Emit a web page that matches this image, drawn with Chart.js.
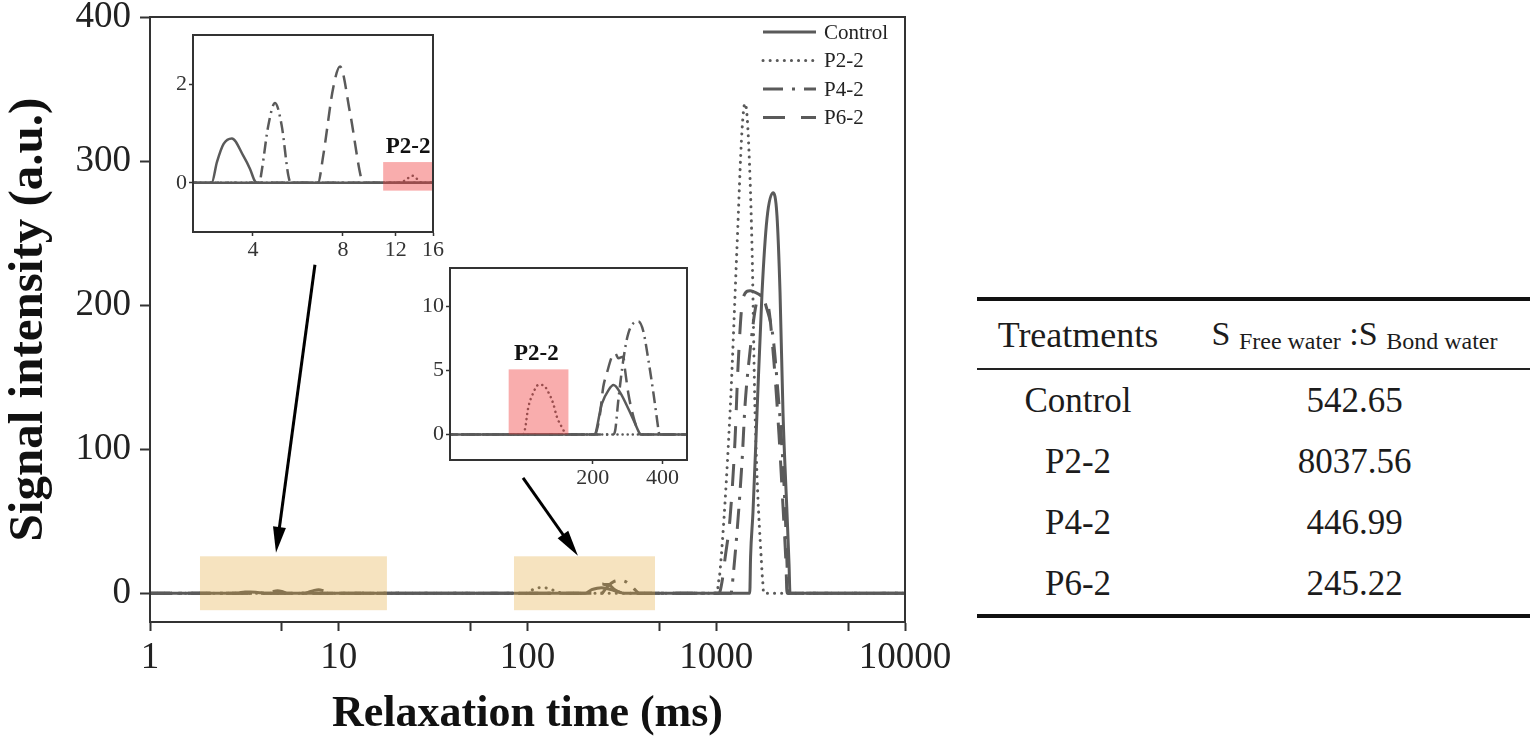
<!DOCTYPE html>
<html>
<head>
<meta charset="utf-8">
<script src="https://cdn.jsdelivr.net/npm/chart.js@4.4.1/dist/chart.umd.min.js"></script>
<style>
  html, body { margin: 0; padding: 0; background: #fff; }
  body { width: 1536px; height: 748px; position: relative; overflow: hidden; }
  #main { position: absolute; left: 0; top: 0; }
  #inset1 { position: absolute; left: 160px; top: 28px; }
  #inset2 { position: absolute; left: 415px; top: 260px; }
  #ratioTable {
    position: absolute; left: 977px; top: 297px; width: 553px;
    border-collapse: collapse; font-family: "Liberation Serif", "Times New Roman", serif; color: #1c1c1c;
  }
  #ratioTable thead tr { border-top: 4px solid #111; border-bottom: 2px solid #222; }
  #ratioTable th { font-weight: normal; height: 67px; padding: 0; font-size: 36px; }
  #ratioTable th.c2 { font-size: 34px; }
  #ratioTable td { height: 61px; padding: 0; text-align: center; font-size: 35px; }
  #ratioTable tbody tr:last-child { border-bottom: 4px solid #111; }
  #ratioTable .c1 { width: 202px; }
  #ratioTable sub { font-size: 24px; vertical-align: -4px; }
</style>
</head>
<body>
<canvas id="main" width="960" height="748"></canvas>
<canvas id="inset1" width="290" height="240"></canvas>
<canvas id="inset2" width="290" height="235"></canvas>
<table id="ratioTable">
  <thead><tr><th class="c1">Treatments</th><th class="c2">S <sub>Free water</sub> :S <sub>Bond water</sub></th></tr></thead>
  <tbody></tbody>
</table>
<script>
// T2 relaxation curves

const seriesNames = ['Control', 'P2-2', 'P4-2', 'P6-2']

const controlTime = [1, 2.91, 3.03, 3.19, 3.40, 3.71, 3.91, 4.06, 4.15,
    203, 219, 234, 246, 262, 285, 305, 320, 325,
    1505, 1520, 1565, 1644, 1747, 1857, 1998, 2098, 2177, 2258, 2370, 2430, 2459, 10000]
const controlSignal = [0, 0, 0.42, 0.79, 0.90, 0.55, 0.28, 0.03, 0,
    0, 2.4, 3.46, 3.85, 3.3, 2.0, 0.84, 0.05, 0,
    0, 25, 56, 125, 208, 260, 278, 262, 209, 125, 56, 20, 0, 0]

const p22Time = [1, 12.5, 12.9, 13.7, 14.3, 14.6,
    100, 102, 105, 111, 116, 122, 128.5, 135, 140, 147, 152, 154,
    1015, 1022, 1047, 1183, 1288, 1369, 1420, 1473, 1547, 1605, 1747, 1770, 1780, 10000]
const p22Signal = [0, 0, 0.05, 0.14, 0.05, 0,
    0, 0.45, 2.0, 3.3, 3.85, 3.85, 3.3, 2.4, 1.36, 0.57, 0.1, 0,
    0, 5, 15, 125, 240, 321, 340, 321, 240, 125, 15, 5, 0, 0]

const p42Time = [1, 4.2, 4.28, 4.5, 4.74, 4.99, 5.25, 5.35,
    245, 250, 258, 271, 285, 315, 331, 348, 366, 378, 385, 388,
    1197, 1227, 1369, 1420, 1510, 1624, 1727, 1857, 1998, 2124, 2231, 2313, 2370, 2400, 10000]
const p42Signal = [0, 0, 0.25, 1.16, 1.62, 1.16, 0.15, 0,
    0, 0.3, 2.67, 5.8, 7.9, 8.82, 8.04, 5.8, 3.2, 1.36, 0.3, 0,
    0, 11, 91, 130, 168, 200, 207, 197, 178, 139, 101, 60, 21, 0, 0]

const p62Time = [1, 6.6, 6.87, 7.42, 7.82, 8.44, 9.24, 9.35,
    205, 208, 215, 222, 230, 242, 250, 258, 271, 276, 285, 300, 315, 320,
    1034, 1073, 1113, 1183, 1257, 1304, 1386, 1510, 1705, 1880, 2023, 2150, 2258, 2342, 2370, 10000]
const p62Signal = [0, 0, 0.55, 1.93, 2.36, 1.43, 0.05, 0,
    0, 0.3, 1.6, 3.7, 4.76, 6.07, 6.34, 5.95, 6.07, 5.0, 3.2, 1.36, 0.2, 0,
    0, 8, 24, 52, 106, 157, 205, 210, 207, 200, 160, 110, 60, 20, 0, 0]

const allTimes = [controlTime, p22Time, p42Time, p62Time]
const allSignals = [controlSignal, p22Signal, p42Signal, p62Signal]

// tick labels
const mainTicksX = [1, 5, 10, 50, 100, 500, 1000, 5000, 10000]
const mainLabelsX = [1, 10, 100, 1000, 10000]
const mainTicksY = [0, 100, 200, 300, 400]
const inset1TicksX = [4, 8, 12, 16]
const inset1TicksY = [0, 2]
const inset2TicksX = [200, 400]
const inset2TicksY = [0, 5, 10]

// table
const tableTreatments = ['Control', 'P2-2', 'P4-2', 'P6-2']
const tableRatios = ['542.65', '8037.56', '446.99', '245.22']

// zoom windows, arrows and P2-2 marks (data coords)
const zoomWindows = [{x: [1.84, 18.0], y: [-11.8, 25.6]}, {x: [84.8, 473.7], y: [-11.8, 25.6]}]
const arrowLinks = [{from: [7.48, 228], to: [4.65, 28]}, {from: [94.7, 80], to: [185, 26]}]
const inset1Mark = {x: [10.9, 16], y: [-0.16, 0.42], label: [13.2, 0.72]}
const inset2Mark = {x: [86.6, 157], y: [0, 5.08], label: [114, 6.3]}

const serif = '"Liberation Serif", "Times New Roman", serif'
const lineColor = '#5a5a5a'
const axisColor = '#333'
const dashMain = {'Control': [], 'P2-2': [0.1, 7], 'P4-2': [20, 9, 3, 9], 'P6-2': [22, 16]}
const dashInset = {'Control': [], 'P2-2': [0.1, 5], 'P4-2': [12, 5, 2, 5], 'P6-2': [14, 8]}

Chart.defaults.font.family = serif
Chart.defaults.color = '#222'

function makeSets(dash, width){
    return seriesNames.map((name, i) => ({
        label: name,
        data: allTimes[i].map((t, j) => ({x: t, y: allSignals[i][j]})),
        borderColor: lineColor,
        borderWidth: width,
        borderDash: dash[name],
        borderCapStyle: name === 'P2-2' ? 'round' : 'butt',
        pointRadius: 0,
        cubicInterpolationMode: 'monotone',
        fill: false,
    }))
}

function frameArea(chart, w){
    const {ctx, chartArea: a} = chart
    ctx.save()
    ctx.strokeStyle = axisColor
    ctx.lineWidth = w
    ctx.strokeRect(a.left, a.top, a.right - a.left, a.bottom - a.top)
    ctx.restore()
}

function drawArrow(ctx, x1, y1, x2, y2){
    const a = Math.atan2(y2 - y1, x2 - x1)
    const head = 26, half = 6.5
    ctx.beginPath()
    ctx.moveTo(x1, y1)
    ctx.lineTo(x2 - Math.cos(a) * head * 0.8, y2 - Math.sin(a) * head * 0.8)
    ctx.stroke()
    const bx = x2 - Math.cos(a) * head, by = y2 - Math.sin(a) * head
    ctx.beginPath()
    ctx.moveTo(x2, y2)
    ctx.lineTo(bx + Math.sin(a) * half, by - Math.cos(a) * half)
    ctx.lineTo(bx - Math.sin(a) * half, by + Math.cos(a) * half)
    ctx.closePath()
    ctx.fill()
}

const mainExtras = {
    id: 'mainExtras',
    afterDatasetsDraw(chart){
        const {ctx, scales: {x, y}} = chart
        ctx.save()
        ctx.fillStyle = 'rgba(228, 170, 60, 0.33)'
        zoomWindows.forEach(w => {
            const l = x.getPixelForValue(w.x[0]), r = x.getPixelForValue(w.x[1])
            const t = y.getPixelForValue(w.y[1]), b = y.getPixelForValue(w.y[0])
            ctx.fillRect(l, t, r - l, b - t)
        })
        ctx.strokeStyle = '#000'
        ctx.fillStyle = '#000'
        ctx.lineWidth = 3
        arrowLinks.forEach(k => {
            drawArrow(ctx, x.getPixelForValue(k.from[0]), y.getPixelForValue(k.from[1]),
                x.getPixelForValue(k.to[0]), y.getPixelForValue(k.to[1]))
        })
        ctx.restore()
    },
    afterDraw(chart){
        frameArea(chart, 2)
        // legend, top right inside the plot
        const {ctx, chartArea} = chart
        const x0 = chartArea.right - 142, y0 = chartArea.top + 15
        ctx.save()
        chart.data.datasets.forEach((ds, i) => {
            const yy = y0 + i * 28.5
            ctx.strokeStyle = ds.borderColor
            ctx.lineWidth = 3
            ctx.lineCap = ds.borderCapStyle
            ctx.setLineDash(ds.borderDash)
            ctx.beginPath()
            ctx.moveTo(x0, yy)
            ctx.lineTo(x0 + 53, yy)
            ctx.stroke()
            ctx.setLineDash([])
            ctx.fillStyle = '#222'
            ctx.font = '21px ' + serif
            ctx.textBaseline = 'middle'
            ctx.fillText(ds.label, x0 + 61, yy + 1)
        })
        ctx.restore()
    }
}

function insetExtras(mark){
    return {
        id: 'insetExtras',
        beforeDatasetsDraw(chart){
            const {ctx, chartArea: a} = chart
            ctx.save()
            ctx.fillStyle = '#fff'
            ctx.fillRect(a.left, a.top, a.right - a.left, a.bottom - a.top)
            ctx.restore()
        },
        afterDatasetsDraw(chart){
            const {ctx, scales: {x, y}} = chart
            const l = x.getPixelForValue(mark.x[0]), r = x.getPixelForValue(mark.x[1])
            const t = y.getPixelForValue(mark.y[1]), b = y.getPixelForValue(mark.y[0])
            ctx.save()
            ctx.fillStyle = 'rgba(240, 60, 60, 0.42)'
            ctx.fillRect(l, t, r - l, b - t)
            ctx.fillStyle = '#111'
            ctx.font = 'bold 23px ' + serif
            ctx.textAlign = 'center'
            ctx.textBaseline = 'middle'
            ctx.fillText('P2-2', x.getPixelForValue(mark.label[0]), y.getPixelForValue(mark.label[1]))
            ctx.restore()
        },
        afterDraw(chart){
            frameArea(chart, 2)
        }
    }
}

// main chart
const mainCtx = document.getElementById('main').getContext('2d')
new Chart(mainCtx, {
    type: 'line',
    data: {datasets: makeSets(dashMain, 3)},
    options: {
        responsive: false,
        animation: false,
        events: [],
        layout: {padding: {left: 0, top: 17, right: 55, bottom: 0}},
        plugins: {legend: {display: false}, tooltip: {enabled: false}},
        scales: {
            x: {
                type: 'logarithmic',
                min: 1,
                max: 10000,
                afterBuildTicks: (s) => { s.ticks = mainTicksX.map(v => ({value: v})) },
                afterFit: (s) => { s.height = 126; s.paddingLeft = 0; s.paddingRight = 0 },
                ticks: {
                    autoSkip: false,
                    maxRotation: 0,
                    padding: 5,
                    color: '#222',
                    font: {size: 37},
                    callback: (v) => mainLabelsX.includes(v) ? String(v) : '',
                },
                grid: {drawOnChartArea: false, tickLength: 9, tickColor: axisColor, tickWidth: 2},
                border: {color: axisColor, width: 2},
                title: {
                    display: true,
                    text: 'Relaxation time (ms)',
                    color: '#111',
                    font: {size: 44, weight: 'bold', lineHeight: 1},
                    padding: {top: 0, bottom: 11},
                },
            },
            y: {
                min: -20,
                max: 400,
                afterBuildTicks: (s) => { s.ticks = mainTicksY.map(v => ({value: v})) },
                afterFit: (s) => { s.width = 150; s.paddingTop = 0; s.paddingBottom = 0 },
                ticks: {padding: 9, color: '#222', font: {size: 37}},
                grid: {drawOnChartArea: false, tickLength: 10, tickColor: axisColor, tickWidth: 2},
                border: {color: axisColor, width: 2},
                title: {
                    display: true,
                    text: 'Signal intensity (a.u.)',
                    color: '#111',
                    font: {size: 49, weight: 'bold', lineHeight: 1},
                    padding: {top: 5, bottom: 0},
                },
            },
        },
    },
    plugins: [mainExtras],
})

function insetOptions(xMin, xMax, xTicks, yMin, yMax, yTicks, yWidth, xHeight, pad){
    return {
        responsive: false,
        animation: false,
        events: [],
        layout: {padding: pad},
        plugins: {legend: {display: false}, tooltip: {enabled: false}},
        scales: {
            x: {
                type: 'logarithmic',
                min: xMin,
                max: xMax,
                afterBuildTicks: (s) => { s.ticks = xTicks.map(v => ({value: v})) },
                afterFit: (s) => { s.height = xHeight; s.paddingLeft = 0; s.paddingRight = 0 },
                ticks: {autoSkip: false, maxRotation: 0, padding: 1, color: '#333', font: {size: 22},
                    callback: (v) => String(v)},
                grid: {drawOnChartArea: false, tickLength: 4, tickColor: axisColor, tickWidth: 1.5},
                border: {color: axisColor, width: 2},
            },
            y: {
                min: yMin,
                max: yMax,
                afterBuildTicks: (s) => { s.ticks = yTicks.map(v => ({value: v})) },
                afterFit: (s) => { s.width = yWidth; s.paddingTop = 0; s.paddingBottom = 0 },
                ticks: {padding: 2, color: '#333', font: {size: 22}},
                grid: {drawOnChartArea: false, tickLength: 4, tickColor: axisColor, tickWidth: 1.5},
                border: {color: axisColor, width: 2},
            },
        },
    }
}

new Chart(document.getElementById('inset1').getContext('2d'), {
    type: 'line',
    data: {datasets: makeSets(dashInset, 2.5)},
    options: insetOptions(2.52, 16, inset1TicksX, -1, 3, inset1TicksY, 33, 36,
        {left: 0, top: 7, right: 17, bottom: 0}),
    plugins: [insetExtras(inset1Mark)],
})

new Chart(document.getElementById('inset2').getContext('2d'), {
    type: 'line',
    data: {datasets: makeSets(dashInset, 2.5)},
    options: insetOptions(48.3, 511, inset2TicksX, -2, 13, inset2TicksY, 35, 35,
        {left: 0, top: 8, right: 18, bottom: 0}),
    plugins: [insetExtras(inset2Mark)],
})

// table rows
const tbody = document.querySelector('#ratioTable tbody')
tableTreatments.forEach((name, i) => {
    const tr = document.createElement('tr')
    const a = document.createElement('td')
    a.className = 'c1'
    a.textContent = name
    const b = document.createElement('td')
    b.textContent = tableRatios[i]
    tr.appendChild(a)
    tr.appendChild(b)
    tbody.appendChild(tr)
})
</script>
</body>
</html>
